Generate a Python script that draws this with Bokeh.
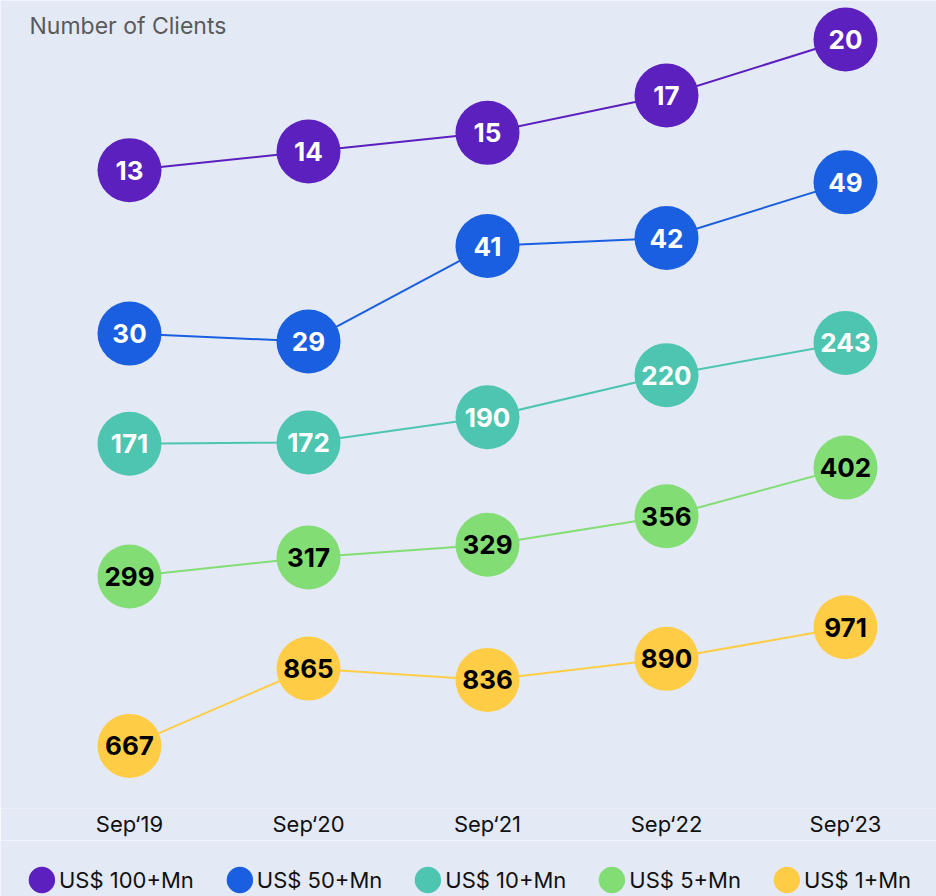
from bokeh.plotting import figure
from bokeh.layouts import column
from bokeh.models import Range1d, FixedTicker, Legend, LegendItem, Label, ColumnDataSource
from bokeh.embed import file_html
from bokeh.resources import INLINE

# ---------------- data ----------------
periods = ["Sep\u201819", "Sep\u201820", "Sep\u201821", "Sep\u201822", "Sep\u201823"]
series_names = ["US$ 100+Mn", "US$ 50+Mn", "US$ 10+Mn", "US$ 5+Mn", "US$ 1+Mn"]
clients_100mn = [13, 14, 15, 17, 20]
clients_50mn = [30, 29, 41, 42, 49]
clients_10mn = [171, 172, 190, 220, 243]
clients_5mn = [299, 317, 329, 356, 402]
clients_1mn = [667, 865, 836, 890, 971]
all_series = [clients_100mn, clients_50mn, clients_10mn, clients_5mn, clients_1mn]

# ---------------- style / layout ----------------
BG = "#E3E9F5"
colors = ["#5B20BE", "#1A5FDF", "#4EC5B0", "#82DD74", "#FFCD45"]
text_colors = ["white", "white", "white", "black", "black"]
FONT = "Inter"
W = 936
MAIN_H, BOTTOM = 840, 32
FRAME_H = MAIN_H - BOTTOM
LEG_H = 56
# each series lives in its own band: (anchor value, anchor pixel from top, pixels per unit)
bands = [(15.8, 117.4, 18.66), (38.2, 267.8, 7.96), (199.2, 403.8, 1.401),
         (340.6, 532.0, 1.057), (845.8, 675.6, 0.3905)]
X0_PX, DX_PX = 129, 179

p = figure(width=W, height=MAIN_H, output_backend="svg",
           toolbar_location=None, y_axis_location=None,
           x_range=Range1d(-X0_PX / DX_PX, (W - X0_PX) / DX_PX),
           y_range=Range1d(0, 1),
           background_fill_color=BG, border_fill_color=BG,
           min_border_left=0, min_border_right=0, min_border_top=0, min_border_bottom=BOTTOM)
p.outline_line_color = None
p.grid.visible = False

xs = list(range(len(periods)))
for i, vals in enumerate(all_series):
    v0, y0, ppu = bands[i]
    rname = f"r{i}"
    p.extra_y_ranges[rname] = Range1d(v0 - (FRAME_H - y0) / ppu, v0 + y0 / ppu)
    src = ColumnDataSource(dict(x=xs, y=vals, label=[str(v) for v in vals]))
    p.line("x", "y", source=src, y_range_name=rname, line_color=colors[i], line_width=2)
    p.ellipse("x", "y", source=src, y_range_name=rname, width=64, height=64,
              width_units="screen", height_units="screen",
              fill_color=colors[i], line_color=None)
    p.text("x", "y", text="label", source=src, y_range_name=rname,
           text_align="center", text_baseline="middle", text_color=text_colors[i],
           text_font_size="26px", text_font_style="bold", text_font={"value": FONT})

xa = p.xaxis[0]
xa.ticker = FixedTicker(ticks=xs)
xa.major_label_overrides = {i: s for i, s in enumerate(periods)}
xa.axis_line_color = None
xa.major_tick_line_color = None
xa.minor_tick_line_color = None
xa.major_tick_out = 0
xa.major_tick_in = 0
xa.major_label_standoff = 2
xa.major_label_text_font = FONT
xa.major_label_text_font_size = "22px"
xa.major_label_text_color = "#111111"

sub = Label(x=29, y=FRAME_H - 25, x_units="screen", y_units="screen", text="Number of Clients",
            text_font=FONT, text_font_size="23px", text_color="#5A5A5A",
            text_baseline="middle", text_align="left")
p.add_layout(sub)

# ---------------- legend strip ----------------
lg = figure(width=W, height=LEG_H, output_backend="svg", toolbar_location=None,
            x_range=Range1d(0, 1), y_range=Range1d(0, 1),
            x_axis_location=None, y_axis_location=None,
            background_fill_color=BG, border_fill_color=BG,
            min_border_left=0, min_border_right=0, min_border_top=0, min_border_bottom=0)
lg.outline_line_color = None
lg.grid.visible = False
items = []
for i, name in enumerate(series_names):
    r = lg.ellipse(x=[-5], y=[-5], width=64, height=64, width_units="screen",
                   height_units="screen", fill_color=colors[i], line_color=None)
    items.append(LegendItem(label=name, renderers=[r]))
legend = Legend(items=items, orientation="horizontal", location="bottom_center",
                background_fill_alpha=0, border_line_color=None,
                glyph_width=33, glyph_height=33, label_standoff=1, spacing=29,
                padding=0, margin=0, label_text_font=FONT, label_text_font_size="22px",
                label_text_color="#111111")
lg.add_layout(legend)

page = column(p, lg, spacing=0)
open("out.html", "w").write(file_html(page, INLINE))
